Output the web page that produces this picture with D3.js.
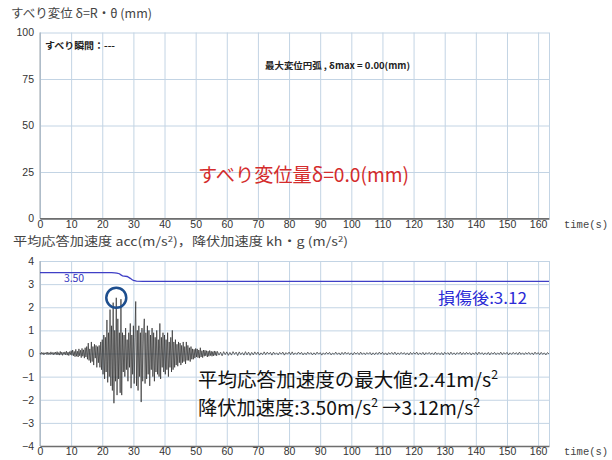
<!DOCTYPE html>
<html><head><meta charset="utf-8">
<script src="https://cdn.jsdelivr.net/npm/d3@7"></script>
<style>body{margin:0;background:#fff}svg{display:block}</style>
</head><body><svg id="c" width="612" height="460"></svg>
<script>
// ---- data ----
const xTickValues = [0,10,20,30,40,50,60,70,80,90,100,110,120,130,140,150,160];
const timeMax = 163.5;
const topYTicks = [0,25,50,75,100];
const botYTicks = [-4,-3,-2,-1,0,1,2,3,4];
const slipTimes = [0, 163.5];
const slipValues = [0, 0];
const yieldTimes  = [0, 23, 24, 24.7, 25.5, 26, 26.5, 27, 28, 29, 29.5, 30, 31, 33, 163.5];
const yieldValues = [3.5, 3.5, 3.49, 3.48, 3.45, 3.4, 3.36, 3.35, 3.33, 3.25, 3.2, 3.16, 3.13, 3.12, 3.12];
const accHeadStep = 0.25;
const accHead = [
 0.02,-0.04,0.05,-0.03,0.04,-0.06,0.03,-0.02,0.05,-0.05,0.06,-0.04,0.03,-0.05,0.07,-0.03,0.04,-0.06,0.05,-0.04,
 0.06,-0.05,0.08,-0.06,0.04,-0.07,0.09,-0.05,0.06,-0.08,0.05,-0.04,0.07,-0.06,0.1,-0.07,0.06,-0.09,0.08,-0.05,
 0.12,-0.08,0.15,-0.1,0.09,-0.14,0.18,-0.12,0.1,-0.15,0.2,-0.1,0.14,-0.18,0.22,-0.12,0.16,-0.2,0.25,-0.15,
 0.3,-0.25,0.45,-0.3,0.2,-0.4,0.5,-0.35,0.3,-0.5,0.4,-0.2,0.35,-0.6,0.3,-0.4,
 0.35,-0.6,0.5,-0.7,0.6,-0.9,0.8,-1.1,0.7,-0.8,1.45,-1.25,0.9,-1.0,1.9,-1.4,
 1.2,-1.6,2.2,-2.15,1.0,-1.2,2.41,-1.8,1.5,-1.1,0.9,-1.7,2.35,-1.8,0.9,-0.8,
 0.8,-1.0,1.1,-0.7,0.6,-1.2,0.9,-0.6,1.3,-1.5,0.8,-0.9,1.2,-1.3,0.7,2.25,-1.4,1.0,-1.6,1.2,-1.0,0.9,-2.1,1.1,
 -1.2,0.8,1.5,-1.3,0.9,-1.1,1.2,-0.9,1.0,-1.4,0.8,-0.7,1.1,-1.0,0.9,-1.2,0.7,-0.8,1.0,-0.9,0.6,-1.0,1.3,-1.1,0.7,-0.6,0.9,-0.8,
 0.8,-0.9,0.6,-0.7,0.9,-1.0,0.5,-0.6,0.7,-0.8,1.0,-0.7,0.5,-0.6,0.6,-0.5,0.4,-0.55,0.5,-0.4,0.45,-0.5,0.35,-0.4,0.5,-0.35,0.3,-0.45,0.5,-0.3,0.35,-0.3,0.25,-0.35,0.3,-0.25,
 0.2,-0.25,0.18,-0.2,0.22,-0.15,0.2,-0.18,0.15,-0.2,0.25,-0.15,0.12,-0.18,0.15,-0.12,0.14,-0.1,0.12,-0.15,0.1,-0.12,0.13,-0.09,0.1,-0.12,0.08,-0.1,0.11,-0.08,0.09,-0.1
];
const accTailStart = 57;
const accTailStep = 0.5;
const accTail = [
 0.09,-0.07,0.06,-0.1,0.08,-0.05,0.07,-0.08,0.05,-0.07,0.08,-0.04,0.06,-0.09,0.07,-0.05,0.04,-0.07,0.08,-0.06,
 0.06,-0.08,0.05,-0.06,0.07,-0.04,0.06,-0.07,0.03,-0.05,0.07,-0.05,0.06,-0.03,0.05,-0.07,0.06,-0.04,0.03,-0.06,
 0.05,-0.03,0.06,-0.07,0.04,-0.03,0.06,-0.05,0.07,-0.05,0.03,-0.04,0.06,-0.03,0.05,-0.06,0.03,-0.05,0.06,-0.03,
 0.04,-0.06,0.03,-0.05,0.06,-0.03,0.04,-0.07,0.03,-0.04,0.05,-0.03,0.05,-0.06,0.02,-0.04,0.06,-0.04,0.03,-0.06,
 0.05,-0.04,0.06,-0.03,0.04,-0.05,0.03,-0.06,0.05,-0.03,0.04,-0.05,0.06,-0.04,0.03,-0.05,0.04,-0.03,0.05,-0.06,
 0.03,-0.05,0.04,-0.04,0.06,-0.03,0.05,-0.05,0.03,-0.06,0.04,-0.03,0.05,-0.04,0.06,-0.05,0.03,-0.04,0.05,-0.03,
 0.04,-0.05,0.03,-0.06,0.05,-0.04,0.04,-0.03,0.06,-0.05,0.03,-0.04,0.05,-0.06,0.04,-0.03,0.05,-0.04,0.03,-0.05,
 0.06,-0.04,0.03,-0.05,0.04,-0.06,0.05,-0.03,0.04,-0.05,0.06,-0.04,0.03,-0.05,0.04,-0.03,0.06,-0.05,0.04,-0.04,
 0.05,-0.03,0.04,-0.06,0.03,-0.04,0.05,-0.05,0.06,-0.03,0.04,-0.05,0.03,-0.04,0.05,-0.06,0.04,-0.03,0.05,-0.05,
 0.03,-0.04,0.06,-0.05,0.04,-0.03,0.05,-0.06,0.03,-0.04,0.05,-0.03,0.04,-0.05,0.06,-0.04,0.03,-0.05,0.04,-0.03,
 0.05,-0.04,0.03,-0.05,0.06,-0.03,0.04,-0.05,0.05,-0.04,0.03,-0.06,0.04,-0.02
];
const peakTime = 24.5;
const peakValue = 2.41;
const initialYield = 3.50;
const finalYield = 3.12;

// ---- build ----
const svg = d3.select('#c');
const gridColor = '#c3d4e4';
const tickFont = '"Liberation Sans Narrow","Arial Narrow","Liberation Sans",Arial,sans-serif';
const jp = '"Noto Sans CJK JP","Noto Sans",sans-serif';
const x = d3.scaleLinear().domain([0, timeMax]).range([40, 549]);
const yTop = d3.scaleLinear().domain([0, 100]).range([218.5, 32.5]);
const yBot = d3.scaleLinear().domain([-4, 4]).range([446, 261]);

function panel(y, yTicks) {
  const [y0, y1] = y.range();
  const g = svg.append('g');
  g.append('g').attr('transform', `translate(0,${y0})`)
    .call(d3.axisBottom(x).tickValues(xTickValues.concat([timeMax])).tickSize(-(y0 - y1)).tickFormat(''))
    .call(s => s.select('.domain').remove())
    .call(s => s.selectAll('line').attr('stroke', gridColor).attr('stroke-width', 1));
  g.append('g').attr('transform', `translate(${x.range()[0]},0)`)
    .call(d3.axisLeft(y).tickValues(yTicks).tickSize(-(x.range()[1] - x.range()[0])).tickFormat(''))
    .call(s => s.select('.domain').remove())
    .call(s => s.selectAll('line').attr('stroke', gridColor).attr('stroke-width', 1));
  g.append('line').attr('x1', x(0)).attr('x2', x(0)).attr('y1', y0).attr('y2', y1)
    .attr('stroke', '#9aa4ad').attr('stroke-width', 1);
  g.append('g').attr('transform', `translate(0,${y0})`)
    .call(d3.axisBottom(x).tickValues(xTickValues).tickSize(0).tickPadding(2))
    .call(s => s.select('.domain').attr('stroke', '#6e6e6e').attr('stroke-width', 1.6))
    .call(s => s.selectAll('text').attr('font-family', tickFont).attr('font-size', 10.5).attr('fill', '#333'));
  g.append('g').attr('transform', `translate(${x.range()[0] - 4},0)`)
    .call(d3.axisLeft(y).tickValues(yTicks).tickSize(0).tickPadding(2))
    .call(s => s.select('.domain').remove())
    .call(s => s.selectAll('text').attr('font-family', tickFont).attr('font-size', 10.5).attr('fill', '#333'));
  g.append('text').attr('x', 564).attr('y', y0 + 9).text('time(s)')
    .attr('font-family', '"Liberation Mono","DejaVu Sans Mono",monospace').attr('font-size', 10.5).attr('fill', '#444');
  return g;
}

// top panel
panel(yTop, topYTicks);
svg.append('text').attr('x', 11).attr('y', 18).attr('font-family', jp).attr('font-size', 12.5).attr('fill', '#444')
  .attr('textLength', 141).attr('lengthAdjust', 'spacingAndGlyphs').text('すべり変位 δ=R・θ (mm)');
svg.append('path').datum(d3.zip(slipTimes, slipValues))
  .attr('fill', 'none').attr('stroke', '#6e6e6e').attr('stroke-width', 1)
  .attr('d', d3.line().x(d => x(d[0])).y(d => yTop(d[1])));
svg.append('text').attr('x', 45).attr('y', 48.5).attr('font-family', jp).attr('font-size', 9.5).attr('font-weight', 700)
  .attr('fill', '#222').attr('textLength', 70).attr('lengthAdjust', 'spacingAndGlyphs').text('すべり瞬間：---');
svg.append('text').attr('x', 265).attr('y', 68.5).attr('font-family', jp).attr('font-size', 9).attr('font-weight', 700)
  .attr('fill', '#222').attr('textLength', 145).attr('lengthAdjust', 'spacingAndGlyphs').text('最大変位円弧 ,  δmax = 0.00(mm)');
svg.append('text').attr('x', 198).attr('y', 182).attr('font-family', jp).attr('font-size', 19.5)
  .attr('fill', '#d42c2c').attr('textLength', 211).attr('lengthAdjust', 'spacingAndGlyphs')
  .text(`すべり変位量δ=${d3.max(slipValues).toFixed(1)}(mm)`);

// bottom panel
panel(yBot, botYTicks);
const title2 = svg.append('text').attr('x', 13).attr('y', 246).attr('font-family', jp).attr('font-size', 12).attr('fill', '#444')
  .attr('textLength', 335).attr('lengthAdjust', 'spacingAndGlyphs');
title2.append('tspan').text('平均応答加速度 acc(m/s');
title2.append('tspan').attr('font-size', 8).attr('dy', -4).text('2');
title2.append('tspan').attr('dy', 4).text(')，降伏加速度 kh・g (m/s');
title2.append('tspan').attr('font-size', 8).attr('dy', -4).text('2');
title2.append('tspan').attr('dy', 4).text(')');

const accPoints = accHead.map((v, i) => [i * accHeadStep, v])
  .concat(accTail.map((v, i) => [accTailStart + i * accTailStep, v]));
svg.append('path').datum(accPoints)
  .attr('fill', 'none').attr('stroke', '#222').attr('stroke-width', 0.65)
  .attr('d', d3.line().x(d => x(d[0])).y(d => yBot(d[1])));

svg.append('path').datum(d3.zip(yieldTimes, yieldValues))
  .attr('fill', 'none').attr('stroke', '#3f3fc6').attr('stroke-width', 1.3)
  .attr('d', d3.line().x(d => x(d[0])).y(d => yBot(d[1])));

svg.append('text').attr('x', 64).attr('y', 281.5).attr('font-family', jp).attr('font-size', 10.5)
  .attr('fill', '#3535c0').attr('textLength', 20).attr('lengthAdjust', 'spacing').text(initialYield.toFixed(2));
svg.append('text').attr('x', 438).attr('y', 304).attr('font-family', jp).attr('font-size', 15.5)
  .attr('fill', '#2b2bd6').attr('textLength', 89).attr('lengthAdjust', 'spacingAndGlyphs')
  .text('損傷後:' + finalYield.toFixed(2));

svg.append('circle').attr('cx', x(peakTime)).attr('cy', yBot(peakValue)).attr('r', 10)
  .attr('fill', 'none').attr('stroke', '#1d4e8e').attr('stroke-width', 2.5);

const a1 = svg.append('text').attr('x', 198).attr('y', 387).attr('font-family', jp).attr('font-size', 19)
  .attr('fill', '#111').attr('textLength', 300).attr('lengthAdjust', 'spacingAndGlyphs');
a1.append('tspan').text('平均応答加速度の最大値:' + peakValue.toFixed(2) + 'm/s');
a1.append('tspan').attr('font-size', 12).attr('dy', -8).text('2');
const a2 = svg.append('text').attr('x', 198).attr('y', 415).attr('font-family', jp).attr('font-size', 19)
  .attr('fill', '#111').attr('textLength', 282).attr('lengthAdjust', 'spacingAndGlyphs');
a2.append('tspan').text('降伏加速度:' + initialYield.toFixed(2) + 'm/s');
a2.append('tspan').attr('font-size', 12).attr('dy', -8).text('2');
a2.append('tspan').attr('dy', 8).text(' →' + finalYield.toFixed(2) + 'm/s');
a2.append('tspan').attr('font-size', 12).attr('dy', -8).text('2');
</script></body></html>
